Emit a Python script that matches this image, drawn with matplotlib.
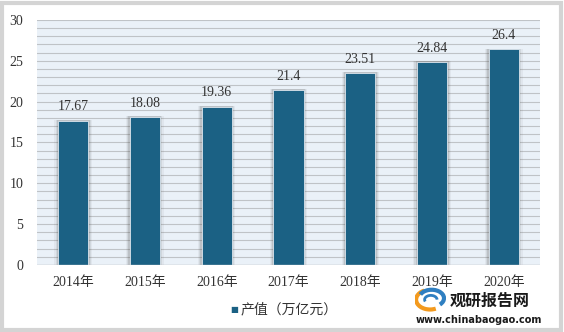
import matplotlib
matplotlib.use("Agg")
import matplotlib.pyplot as plt
from matplotlib.patches import Arc
import numpy as np

plt.rcParams['font.family'] = ['Liberation Serif', 'Noto Sans CJK SC']

years = ['2014年', '2015年', '2016年', '2017年', '2018年', '2019年', '2020年']
values = [17.67, 18.08, 19.36, 21.4, 23.51, 24.84, 26.4]
value_labels = ['17.67', '18.08', '19.36', '21.4', '23.51', '24.84', '26.4']
legend_label = '产值（万亿元）'

bar_color = '#1b6184'

fig = plt.figure(figsize=(5.64, 3.32), dpi=100)
fig.patch.set_facecolor('white')
# grey frame around the whole chart
frame = plt.Rectangle((0.004, 0.006), 0.99, 0.985, transform=fig.transFigure,
                      fill=False, edgecolor='#d4d4d4', linewidth=3)
fig.patches.append(frame)

ax = fig.add_axes([0.066, 0.202, 0.891, 0.738])
ax.set_facecolor('#eaf1f8')
x = np.arange(len(years))
w = 0.42

# soft shadow behind each bar
for k, a in enumerate([0.14, 0.09, 0.06]):
    off = 0.02 + k * 0.015
    ax.bar(x, np.array(values) + 0.1, width=w + off * 2, color='#404040', alpha=a, zorder=2)
ax.bar(x, values, width=w, color=bar_color, edgecolor='#dde6ee', linewidth=0.6, zorder=3)

for xi, v, lab in zip(x, values, value_labels):
    ax.text(xi, v + 0.9, lab, ha='center', va='bottom', fontsize=10, color='#333333')

ax.set_ylim(0, 30)
ax.set_xlim(-0.5, len(years) - 0.5)
ax.set_yticks(range(0, 31, 5))
ax.set_yticks(range(0, 31, 1), minor=True)
ax.grid(axis='y', which='both', color='#bfc3c7', linewidth=0.8, zorder=1)
ax.set_axisbelow(True)
ax.set_xticks(x)
ax.set_xticklabels(years)
ax.tick_params(axis='both', which='both', length=0, labelsize=10, colors='#333333')
ax.tick_params(axis='x', pad=8)
ax.tick_params(axis='y', pad=10)
for s in ax.spines.values():
    s.set_visible(False)
ax.axhline(0, color='#bfc3c7', linewidth=1, zorder=4)

# legend
fig.text(0.415, 0.067, '■', color=bar_color, fontsize=6, ha='center', va='center',
         family=['DejaVu Sans'])
fig.text(0.427, 0.067, legend_label, color='#333333', fontsize=10, ha='left', va='center',
         family=['Noto Sans CJK SC'])

# watermark logo and name
lax = fig.add_axes([0.735, 0.055, 0.055, 0.085])
lax.set_xlim(-1, 1)
lax.set_ylim(-1, 1)
lax.axis('off')
lax.add_patch(Arc((0, 0), 1.8, 1.4, theta1=120, theta2=300, color='#f39a1e', linewidth=3))
lax.add_patch(Arc((0.1, 0.1), 1.6, 1.2, theta1=-40, theta2=160, color='#2f7fc1', linewidth=3))
lax.add_patch(Arc((0.05, 0.0), 0.8, 0.6, theta1=0, theta2=200, color='#2f7fc1', linewidth=2))
fig.text(0.797, 0.094, '观研报告网', fontsize=11.5, fontweight='bold', color='#1a1a1a',
         ha='left', va='center', family=['Noto Sans CJK SC'])
fig.text(0.737, 0.036, 'www.chinabaogao.com', fontsize=7, fontweight='bold', color='#1a1a1a',
         ha='left', va='center', family=['DejaVu Sans'])

fig.savefig('out.png', dpi=100)
